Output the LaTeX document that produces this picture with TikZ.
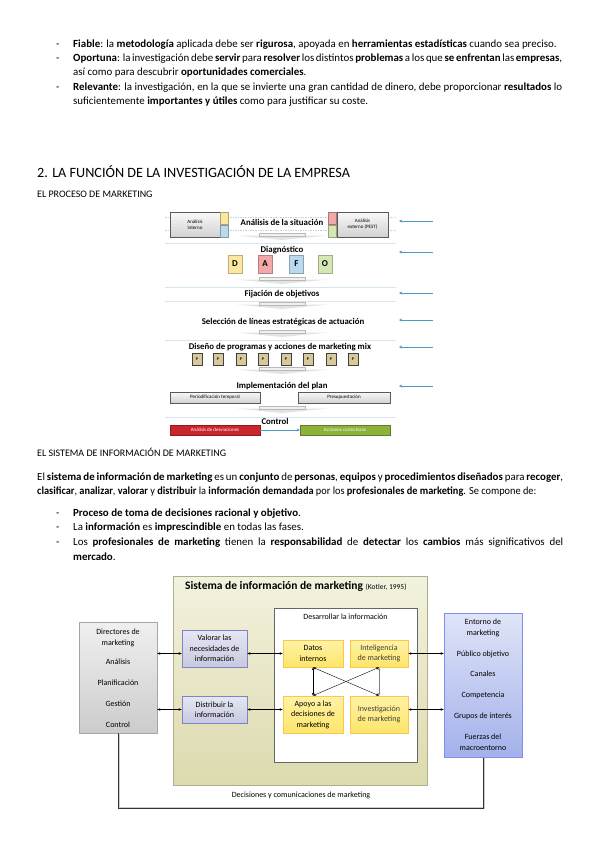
\documentclass[tikz,border=0pt]{standalone}
\usepackage{fontspec}
\setmainfont{Carlito}
\usetikzlibrary{calc}
\usetikzlibrary{positioning}
\usetikzlibrary{arrows.meta}
\definecolor{arrblue}{HTML}{4A9CC0}
\definecolor{sepline}{HTML}{D6E6EE}
\definecolor{dyel}{HTML}{FBE7A0}
\definecolor{dpink}{HTML}{F2A8A8}
\definecolor{dblue}{HTML}{B9D9EE}
\definecolor{dgreen}{HTML}{D5E8B4}
\definecolor{ptan}{HTML}{D8C89C}
\definecolor{ctrlred}{HTML}{C8262C}
\definecolor{ctrlgreen}{HTML}{8CB23C}
\definecolor{simtop}{HTML}{F3F2DE}
\definecolor{simbot}{HTML}{DCDAAE}
\definecolor{lavtop}{HTML}{E6E7F3}
\definecolor{lavbot}{HTML}{C7C9DF}
\definecolor{yeltop}{HTML}{FFF3A6}
\definecolor{yelbot}{HTML}{FDE56A}
\definecolor{enttop}{HTML}{DFE4F8}
\definecolor{entbot}{HTML}{A3B1EA}
\newcommand{\bodyfont}{\fontsize{10.9}{13}\selectfont}
\tikzset{
  txt/.style={anchor=base west, inner sep=0pt, font=\bodyfont},
  sep/.style={sepline, line width=0.6pt},
  guide/.style={sepline!80!arrblue, line width=0.5pt, dash pattern=on 1.5pt off 1pt},
  stage/.style={inner sep=0pt, font=\fontsize{8.8}{10}\selectfont\bfseries},
  graybox/.style={draw=gray!70!black, top color=gray!5, bottom color=gray!35, line width=0.5pt,
    inner sep=1pt, align=center, font=\fontsize{5}{5.8}\selectfont},
  sq/.style={draw=#1!70!black, fill=#1, minimum width=8pt, minimum height=12.5pt, inner sep=0pt, line width=0.3pt},
  dafo/.style={draw=#1!75!black, fill=#1, minimum width=14pt, minimum height=18pt, inner sep=0pt,
    font=\fontsize{9}{10}\selectfont\bfseries, line width=0.4pt},
  pbox/.style={draw=black!75, fill=ptan, minimum width=10pt, minimum height=12pt, inner sep=0pt,
    font=\fontsize{4}{5}\selectfont\bfseries, line width=0.6pt},
  bar/.style={draw=#1!70!black, fill=#1, minimum width=90pt, minimum height=10pt, inner sep=0pt,
    text=white, font=\fontsize{5}{6}\selectfont},
  chev/.pic={
    \fill[gray!22] (-46,2.5) -- (46,2.5) -- (0,7) -- cycle;
    \filldraw[fill=gray!12, draw=gray!55, line width=0.4pt] (-23,0) rectangle (23,3);
  },
  side/.style={-{Stealth[length=3pt,width=3pt]}, arrblue, line width=0.8pt},
  dia/.style={align=center, inner sep=1pt, font=\fontsize{8}{10.5}\selectfont},
  lavbox/.style={dia, draw=gray!60!blue!70, top color=lavtop, bottom color=lavbot, line width=0.5pt, minimum width=65pt},
  yelbox/.style={dia, draw=yelbot!70!orange, top color=yeltop, bottom color=yelbot, line width=0.7pt},
  dbl/.style={{Stealth[length=3pt,width=2.5pt]}-{Stealth[length=3pt,width=2.5pt]}, line width=0.6pt}
}
\begin{document}
\begin{tikzpicture}[x=1pt,y=-1pt]
\useasboundingbox (0,0) rectangle (599,848);
\fill[white] (0,0) rectangle (599,848);

\node[txt] (d1) at (56,48) {-};
\node[txt] (t1) at (73,48) {\textbf{Fiable}: la \textbf{metodología} aplicada debe ser \textbf{rigurosa}, apoyada en \textbf{herramientas estadísticas} cuando sea preciso.};
\node[txt] (d2) at (56,62) {-};
\node[txt] (t2) at (73,62) {\makebox[489pt][s]{\textbf{Oportuna}: la investigación debe \textbf{servir} para \textbf{resolver} los distintos \textbf{problemas} a los que \textbf{se enfrentan} las \textbf{empresas},}};
\node[txt] (t3) at (73,76) {así como para descubrir \textbf{oportunidades comerciales}.};
\node[txt] (d3) at (56,91) {-};
\node[txt] (t4) at (73,91) {\makebox[489pt][s]{\textbf{Relevante}: la investigación, en la que se invierte una gran cantidad de dinero, debe proporcionar \textbf{resultados} lo}};
\node[txt] (t5) at (73,105) {suficientemente \textbf{importantes y útiles} como para justificar su coste.};

\node[txt, font=\fontsize{14.2}{16}\selectfont] (head) at (37,177) {2. LA FUNCIÓN DE LA INVESTIGACIÓN DE LA EMPRESA};
\node[txt, font=\fontsize{10}{12}\selectfont] (proc) at (37,197) {EL PROCESO DE MARKETING};

% proceso de marketing
\draw[guide] (165,217) -- (396,217);
\draw[guide] (165,230) -- (396,230);
\foreach \y in {243,287,301,340,417}
  \draw[sep] (165,\y) -- (396,\y);
\node[graybox, minimum width=50pt, minimum height=25pt] (int) at (195,224.5) {Análisis\\interno};
\node[graybox, minimum width=51pt, minimum height=25pt] (ext) at (362.5,224.5) {Análisis\\externo (PEST)};
\node[sq=dyel, anchor=south west] (iy) at (int.east) {};
\node[sq=dblue, anchor=north west] (ib) at (int.east) {};
\node[sq=dpink, anchor=south east] (ep) at (ext.west) {};
\node[sq=dgreen, anchor=north east] (eg) at (ext.west) {};
\node[stage] (sit) at (282,222) {Análisis de la situación};
\node[stage] (diag) at (282,250) {Diagnóstico};
\node[dafo=dyel] (D) at (235,264) {D};
\node[dafo=dpink] (A) at (265,264) {A};
\node[dafo=dblue] (F) at (296.5,264) {F};
\node[dafo=dgreen] (O) at (325,264) {O};
\node[stage] (obj) at (282,294) {Fijación de objetivos};
\node[stage] (lin) at (283,322) {Selección de líneas estratégicas de actuación};
\node[stage] (mix) at (280,347) {Diseño de programas y acciones de marketing mix};
\foreach \x [count=\i] in {197,218,241,263,286,308,331,353}
  \node[pbox] (p\i) at (\x,359) {P};
\node[stage] (impl) at (282,386) {Implementación del plan};
\node[graybox, minimum width=90pt, minimum height=11pt] (per) at (215,397.5) {Periodificación temporal};
\node[graybox, minimum width=92pt, minimum height=11pt] (pre) at (344,397.5) {Presupuestación};
\node[stage] (ctrl) at (275,421) {Control};
\node[bar=ctrlred] (desv) at (215,430) {Análisis de desviaciones};
\node[bar=ctrlgreen] (corr) at (345,430) {Acciones correctoras};
\draw[-{Stealth[length=3pt,width=3pt]}, arrblue, line width=0.6pt] (desv) -- (corr);
\foreach \y in {233,277,302,330,367,406}
  \pic at (282,\y) {chev};
\foreach \y [count=\i] in {221,252,293,320,347,386} {
  \coordinate (r\i) at (433,\y);
  \coordinate (l\i) at (399,\y);
  \draw[side] (r\i) -- (l\i);
}

\node[txt, font=\fontsize{10}{12}\selectfont] (sim) at (37,456) {EL SISTEMA DE INFORMACIÓN DE MARKETING};
\node[txt] (s1) at (37,480) {\makebox[526pt][s]{El \textbf{sistema de información de marketing} es un \textbf{conjunto} de \textbf{personas}, \textbf{equipos} y \textbf{procedimientos diseñados} para \textbf{recoger},}};
\node[txt] (s2) at (37,494) {\scalebox{0.947}[1]{\textbf{clasificar}, \textbf{analizar}, \textbf{valorar} y \textbf{distribuir} la \textbf{información demandada} por los \textbf{profesionales de marketing}. Se compone de:}};
\node[txt] (d4) at (56,516) {-};
\node[txt] (b1) at (73,516) {\textbf{Proceso de toma de decisiones racional y objetivo}.};
\node[txt] (d5) at (56,530) {-};
\node[txt] (b2) at (73,530) {La \textbf{información} es \textbf{imprescindible} en todas las fases.};
\node[txt] (d6) at (56,545) {-};
\node[txt] (b3) at (73,545) {\makebox[490pt][s]{Los \textbf{profesionales de marketing} tienen la \textbf{responsabilidad} de \textbf{detectar} los \textbf{cambios} más significativos del}};
\node[txt] (b4) at (73,560) {\textbf{mercado}.};

% sistema de informacion de marketing
\node[draw=simbot!80!black, top color=simtop, bottom color=simbot, minimum width=254pt, minimum height=209pt, inner sep=0pt, line width=0.5pt] (sis) at (300,680.5) {};
\node[anchor=west, inner sep=0pt, font=\fontsize{11.5}{13}\selectfont] (tit) at (185,586) {\textbf{Sistema de información de marketing} {\fontsize{7.5}{9}\selectfont(Kotler, 1995)}};
\node[draw=gray!80!black, fill=white, minimum width=143pt, minimum height=154pt, inner sep=0pt, line width=0.6pt] (des) at (345.5,685) {};
\node[dia] (destit) at (345.5,617) {Desarrollar la información};
\node[lavbox, minimum height=37pt] (val) at (214.5,648.5) {Valorar las\\necesidades de\\información};
\node[lavbox, minimum height=27pt] (dis) at (214.5,709.5) {Distribuir la\\información};
\node[yelbox, minimum width=60pt, minimum height=27pt] (dat) at (313,653.5) {Datos\\internos};
\node[yelbox, minimum width=58pt, minimum height=27pt, text=black!75] (intl) at (379,653.5) {Inteligencia\\de marketing};
\node[yelbox, minimum width=60pt, minimum height=37pt] (apo) at (313,714.5) {Apoyo a las\\decisiones de\\marketing};
\node[yelbox, minimum width=58pt, minimum height=37pt, text=black!75] (inv) at (379,714.5) {Investigación\\de marketing};
\node[dia, draw=gray!70, top color=gray!12, bottom color=gray!40, minimum width=78pt, minimum height=111pt, anchor=north] (dir) at (118,622) {};
\node[dia] (dir1) at (118,638) {Directores de\\marketing};
\node[dia] (dir2) at (118,662) {Análisis};
\node[dia] (dir3) at (118,683) {Planificación};
\node[dia] (dir4) at (118,704) {Gestión};
\node[dia] (dir5) at (118,725) {Control};
\node[dia, draw=entbot!80!blue, top color=enttop, bottom color=entbot, minimum width=78pt, minimum height=144pt, anchor=north, line width=0.5pt] (ent) at (483,613) {};
\node[dia] (ent1) at (483,628) {Entorno de\\marketing};
\node[dia] (ent2) at (483,654) {Público objetivo};
\node[dia] (ent3) at (483,674) {Canales};
\node[dia] (ent4) at (483,695) {Competencia};
\node[dia] (ent5) at (483,716) {Grupos de interés};
\node[dia] (ent6) at (483,742) {Fuerzas del\\macroentorno};

\draw[dbl] (dir.east |- dat) -- (val.west |- dat);
\draw[dbl] (dir.east |- dis) -- (dis.west);
\draw[dbl] (val.east |- dat) -- (dat.west);
\draw[dbl] (dis.east) -- (apo.west |- dis);
\draw[dbl] (intl.east) -- (ent.west |- intl);
\draw[dbl] (inv.east |- dis) -- (ent.west |- dis);
\draw[dbl, line width=0.9pt] (dat.south) -- (apo.north);
\draw[dbl, line width=0.9pt, gray] (intl.south) -- (inv.north);
\draw[dbl, line width=0.4pt] (dat.south) -- (inv.north);
\draw[dbl, line width=0.4pt] (intl.south) -- (apo.north);

\coordinate (bot) at (0,808);
\draw[gray!40, line width=1.6pt] ([xshift=0.8pt]dir.south) -- ([xshift=0.8pt]dir.south |- bot) -| ([xshift=0.8pt]ent.south);
\draw[black!80, line width=0.6pt] (dir.south) -- (dir.south |- bot) -| (ent.south);
\node[dia] (dec) at (301,795) {Decisiones y comunicaciones de marketing};
\end{tikzpicture}
\end{document}
